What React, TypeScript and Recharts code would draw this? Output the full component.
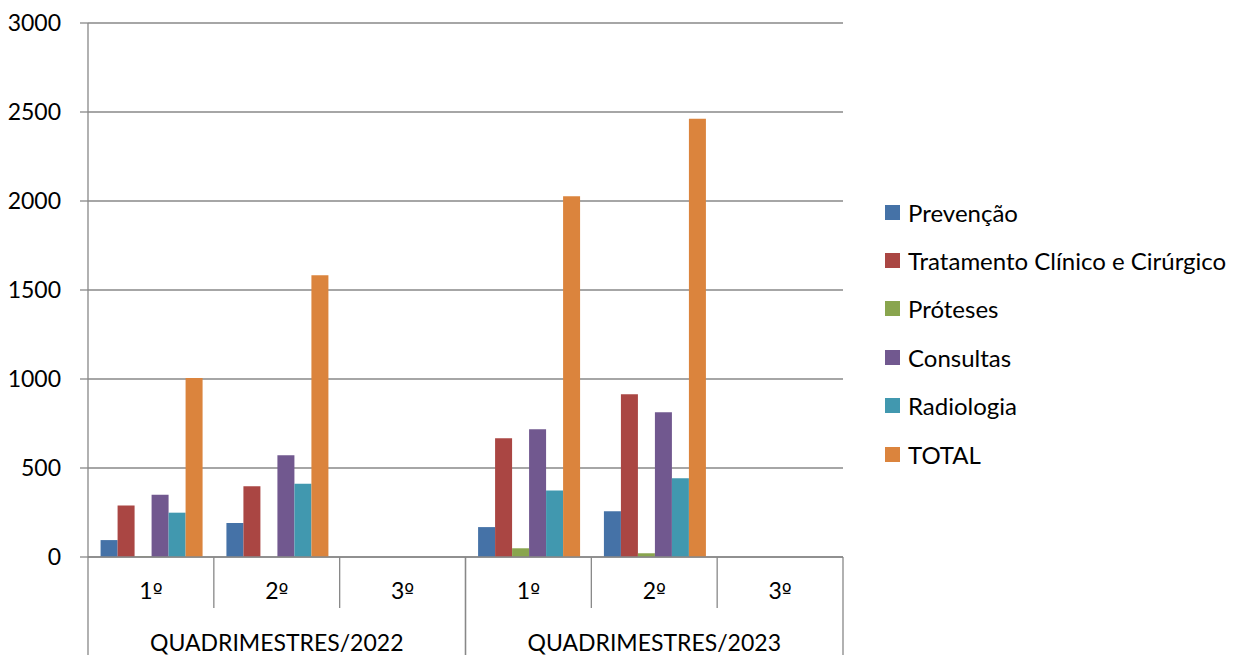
import React from 'react';
import { BarChart, Bar, XAxis, YAxis, CartesianGrid } from 'recharts';

const categories = ['1º', '2º', '3º', '1º', '2º', '3º'];
const groupLabels = [
  'QUADRIMESTRES/2022',
  'QUADRIMESTRES/2022',
  'QUADRIMESTRES/2022',
  'QUADRIMESTRES/2023',
  'QUADRIMESTRES/2023',
  'QUADRIMESTRES/2023',
];

const prevencao = [95, 191, 0, 168, 257, 0];
const tratamento = [290, 397, 0, 667, 914, 0];
const proteses = [2, 0, 0, 49, 21, 0];
const consultas = [350, 571, 0, 717, 813, 0];
const radiologia = [249, 412, 0, 373, 442, 0];
const total = [1005, 1583, 0, 2026, 2462, 0];

const yTicks = [0, 500, 1000, 1500, 2000, 2500, 3000];

const seriesKeys = ['prevencao', 'tratamento', 'proteses', 'consultas', 'radiologia', 'total'];
const seriesNames = [
  'Prevenção',
  'Tratamento Clínico e Cirúrgico',
  'Próteses',
  'Consultas',
  'Radiologia',
  'TOTAL',
];
const seriesColors = ['#4572A7', '#AA4643', '#89A54E', '#71588F', '#4198AF', '#DB843D'];
const seriesValues = [prevencao, tratamento, proteses, consultas, radiologia, total];

const data = categories.map((cat, i) => {
  const row: Record<string, any> = { idx: i, cat, group: groupLabels[i] };
  seriesKeys.forEach((k, s) => {
    row[k] = seriesValues[s][i];
  });
  return row;
});

const AXIS_GRAY = '#888888';
const FONT = "Lato, 'Open Sans', sans-serif";
const ORD_FONT = "'DejaVu Sans', sans-serif";
const FONT_SIZE = 23;
const LEGEND_FONT_SIZE = 24;

const CategoryTick = (props: any) => {
  const { x, y, payload } = props;
  const i: number = props.index ?? payload?.index ?? 0;
  const half: number = payload?.offset ?? 0;
  const left = x - half;
  const right = x + half;
  const g = groupLabels[i];
  const isStart = i === 0 || groupLabels[i - 1] !== g;
  const isEnd = i === categories.length - 1 || groupLabels[i + 1] !== g;
  let start = i;
  while (start > 0 && groupLabels[start - 1] === g) start--;
  let end = i;
  while (end < categories.length - 1 && groupLabels[end + 1] === g) end++;
  const groupCenter = x + ((start + end) / 2 - i) * 2 * half;
  const label = categories[i];
  return (
    <g>
      <line
        x1={left}
        x2={left}
        y1={y}
        y2={y + (isStart ? 98 : 51)}
        stroke={AXIS_GRAY}
        strokeWidth={1.3}
      />
      {isEnd && (
        <line x1={right} x2={right} y1={y} y2={y + 98} stroke={AXIS_GRAY} strokeWidth={1.3} />
      )}
      <text
        x={x}
        y={y + 42}
        textAnchor="middle"
        fill="#000"
        fontSize={FONT_SIZE}
        fontFamily={FONT}
      >
        {label.split('').map((ch, k) =>
          ch === 'º' ? (
            <tspan key={k} fontFamily={ORD_FONT} fontSize={FONT_SIZE - 2}>
              {ch}
            </tspan>
          ) : (
            <tspan key={k}>{ch}</tspan>
          )
        )}
      </text>
      {isStart && (
        <text
          x={groupCenter}
          y={y + 94}
          textAnchor="middle"
          fill="#000"
          fontSize={FONT_SIZE}
          fontFamily={FONT}
        >
          {g}
        </text>
      )}
    </g>
  );
};

const ChartLegend = () => (
  <div
    style={{
      position: 'absolute',
      left: 885,
      top: 188,
      fontFamily: FONT,
      fontSize: LEGEND_FONT_SIZE,
      color: '#000',
    }}
  >
    {seriesNames.map((name, s) => (
      <div
        key={name}
        style={{ display: 'flex', alignItems: 'center', height: 48.4, whiteSpace: 'nowrap' }}
      >
        <span
          style={{
            display: 'inline-block',
            width: 15,
            height: 15,
            background: seriesColors[s],
            marginRight: 8,
          }}
        />
        <span>{name}</span>
      </div>
    ))}
  </div>
);

export default function App() {
  return (
    <div
      style={{
        position: 'absolute',
        left: 0,
        top: 0,
        width: 1250,
        height: 655,
        background: '#fff',
        fontFamily: FONT,
      }}
    >
      <BarChart
        width={1250}
        height={655}
        data={data}
        margin={{ top: 23, right: 407, bottom: 0, left: 0 }}
        barCategoryGap="10%"
        barGap={0}
      >
        <CartesianGrid vertical={false} stroke={AXIS_GRAY} strokeWidth={1.3} />
        <XAxis
          dataKey="idx"
          type="category"
          height={98}
          interval={0}
          tickLine={false}
          tickSize={0}
          tickMargin={0}
          axisLine={{ stroke: AXIS_GRAY, strokeWidth: 1.3 }}
          tick={<CategoryTick />}
        />
        <YAxis
          width={88}
          domain={[0, 3000]}
          ticks={yTicks}
          interval={0}
          tickSize={8}
          tickMargin={19}
          axisLine={{ stroke: AXIS_GRAY, strokeWidth: 1.3 }}
          tickLine={{ stroke: AXIS_GRAY, strokeWidth: 1.3 }}
          tick={{ fill: '#000', fontSize: FONT_SIZE, fontFamily: FONT }}
        />
        {seriesKeys.map((k, s) => (
          <Bar
            key={k}
            dataKey={k}
            name={seriesNames[s]}
            fill={seriesColors[s]}
            isAnimationActive={false}
          />
        ))}
      </BarChart>
      <ChartLegend />
    </div>
  );
}
